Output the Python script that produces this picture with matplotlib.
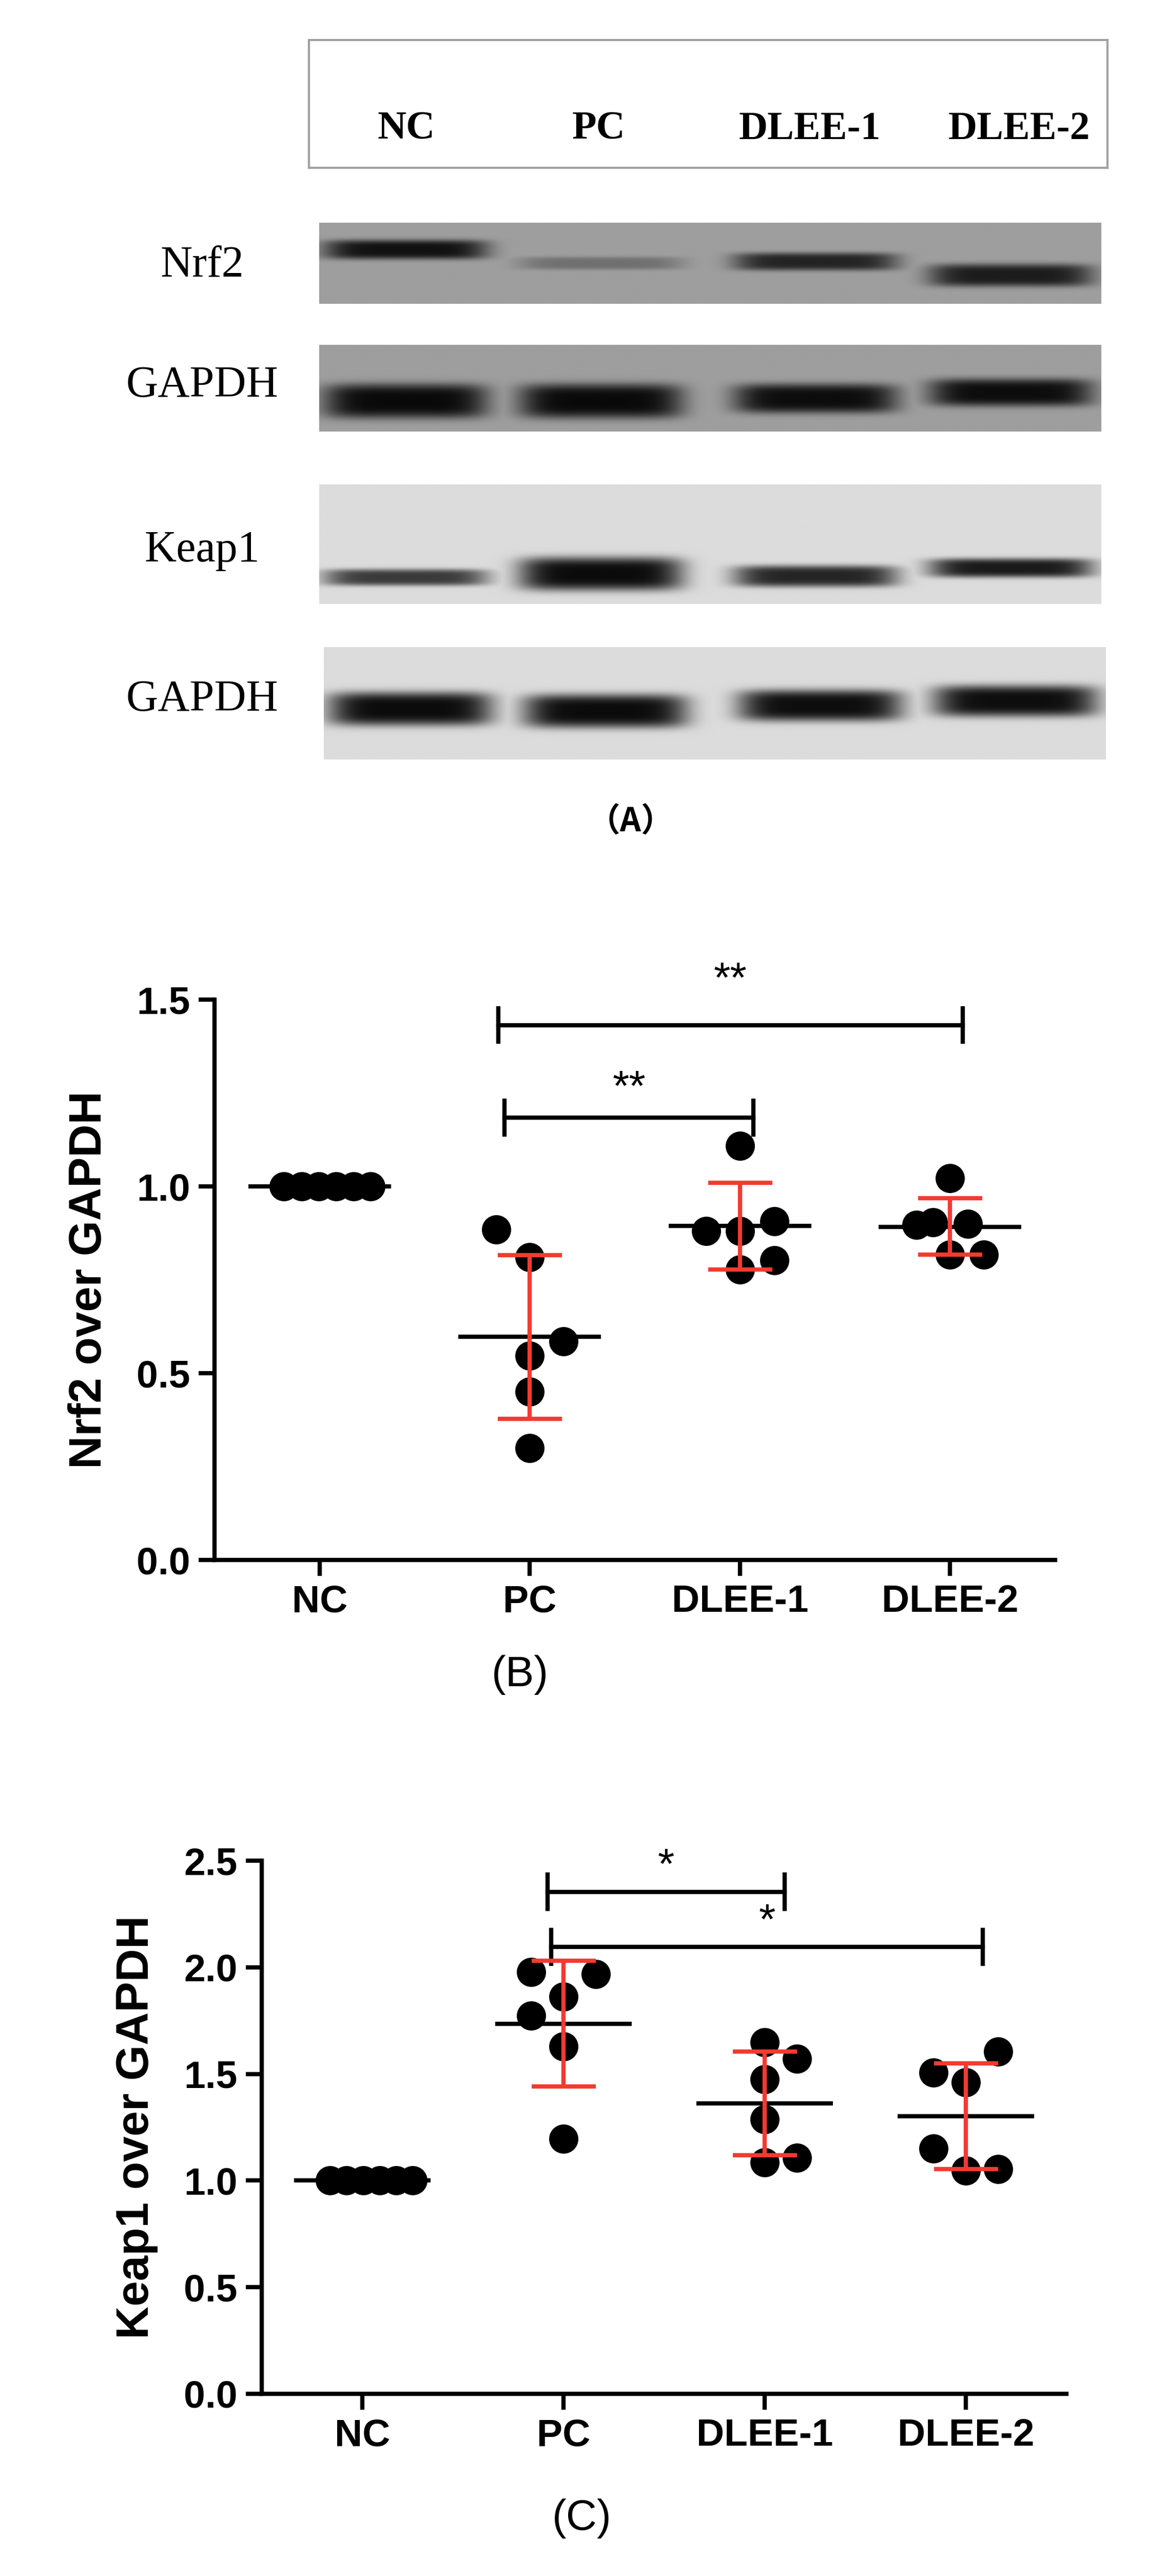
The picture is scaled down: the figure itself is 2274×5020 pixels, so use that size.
import numpy as np
import matplotlib
matplotlib.use("Agg")
import matplotlib.pyplot as plt

# ---------------- data ----------------
groups = ["NC", "PC", "DLEE-1", "DLEE-2"]

nrf2_nc = [1.0, 1.0, 1.0, 1.0, 1.0, 1.0]
nrf2_pc = [0.885, 0.81, 0.585, 0.547, 0.45, 0.30]
nrf2_d1 = [1.109, 0.88, 0.88, 0.907, 0.802, 0.777]
nrf2_d2 = [1.022, 0.897, 0.904, 0.90, 0.817, 0.817]
nrf2_mean = [1.0, 0.597, 0.894, 0.892]
nrf2_lo = [1.0, 0.378, 0.777, 0.817]
nrf2_hi = [1.0, 0.816, 1.009, 0.968]

keap_nc = [1.0, 1.0, 1.0, 1.0, 1.0, 1.0]
keap_pc = [1.979, 1.969, 1.863, 1.773, 1.628, 1.196]
keap_d1 = [1.649, 1.571, 1.475, 1.287, 1.085, 1.106]
keap_d2 = [1.605, 1.506, 1.46, 1.15, 1.047, 1.054]
keap_mean = [1.0, 1.736, 1.362, 1.302]
keap_lo = [1.0, 1.442, 1.119, 1.054]
keap_hi = [1.0, 2.031, 1.605, 1.550]

# blot band intensities (0..1) per lane
blot_rows = ["Nrf2", "GAPDH", "Keap1", "GAPDH"]
band_strength = [[0.92, 0.30, 0.80, 0.85],
                 [0.97, 0.97, 0.95, 0.95],
                 [0.75, 0.97, 0.85, 0.90],
                 [0.97, 0.97, 0.96, 0.96]]
band_ypos = [[0.33, 0.50, 0.48, 0.65],
             [0.65, 0.65, 0.62, 0.55],
             [0.78, 0.75, 0.77, 0.70],
             [0.55, 0.57, 0.52, 0.48]]
band_thick = [[0.12, 0.08, 0.11, 0.14],
              [0.20, 0.20, 0.17, 0.16],
              [0.07, 0.14, 0.09, 0.08],
              [0.15, 0.15, 0.14, 0.14]]
band_bg = [0.62, 0.62, 0.86, 0.86]

# ---------------- figure ----------------
W, H = 2274, 5020
fig = plt.figure(figsize=(W / 100, H / 100), dpi=100)
fig.patch.set_facecolor("white")

def fx(px):
    return px / W

def fy(py):
    return 1 - py / H

SERIF = ["Liberation Serif", "DejaVu Serif"]
SANS = ["Liberation Sans", "DejaVu Sans"]

# header box with lane labels
hb = fig.add_axes([fx(602), fy(327), fx(2158 - 602), (327 - 78) / H])
hb.set_xlim(0, 1); hb.set_ylim(0, 1)
hb.set_xticks([]); hb.set_yticks([])
for s in hb.spines.values():
    s.set_color("#a0a0a0"); s.set_linewidth(3)
lane_px = [792, 1166, 1578, 1986]
for name, xp in zip(groups, lane_px):
    hb.text((xp - 602) / (2158 - 602), 0.30, name, ha="center", va="center",
            family=SERIF, fontweight="bold", fontsize=56)

# blots
blot_boxes = [(622, 2146, 434, 592), (622, 2146, 672, 841),
              (622, 2146, 944, 1177), (631, 2155, 1261, 1480)]
label_y = [518, 752, 1073, 1364]
lane_frac = [0.11, 0.36, 0.635, 0.885]
for r in range(4):
    x0, x1, y0, y1 = blot_boxes[r]
    ax = fig.add_axes([fx(x0), fy(y1), (x1 - x0) / W, (y1 - y0) / H])
    nx, ny = 600, 120
    xs = np.linspace(0, 1, nx)[None, :]
    ys = np.linspace(0, 1, ny)[:, None]
    dark = np.zeros((ny, nx))
    for l in range(4):
        gx = np.exp(-((xs - lane_frac[l]) / 0.105) ** 6)
        gy = np.exp(-((ys - band_ypos[r][l]) / band_thick[r][l]) ** 4)
        dark = np.maximum(dark, band_strength[r][l] * gx * gy)
    img = band_bg[r] * (1 - dark) + 0.02 * dark
    ax.imshow(img, cmap="gray", vmin=0, vmax=1, aspect="auto",
              extent=(0, 1, 1, 0), interpolation="bilinear")
    ax.set_axis_off()
    fig.text(fx(394), fy(label_y[r]), blot_rows[r], ha="center", va="center",
             family=SERIF, fontsize=62)

fig.text(fx(1229), fy(1602), "（A）", ha="center", va="center",
         family=["Noto Sans CJK SC", "DejaVu Sans"], fontweight="bold", fontsize=46)

RED = "#f23b30"

def scatter_panel(rect, series, offsets, mean, lo, hi, ylim, yticks, ylabel,
                  brackets, tag, tag_xy):
    ax = fig.add_axes(rect)
    xs_pos = np.arange(len(groups))
    for i, vals in enumerate(series):
        ax.plot(xs_pos[i] + np.array(offsets[i]), vals, "o", color="black",
                markersize=40, zorder=3, clip_on=False)
    for i in range(len(groups)):
        ax.plot([i - 0.34, i + 0.34], [mean[i], mean[i]], color="black",
                lw=6, zorder=4, solid_capstyle="butt")
        if i > 0:
            ax.errorbar(i, mean[i], yerr=[[mean[i] - lo[i]], [hi[i] - mean[i]]],
                        fmt="none", ecolor=RED, elinewidth=6, capsize=45,
                        capthick=6, zorder=5)
    for (xa, xb, yb, dy, star, sy) in brackets:
        ax.plot([xa, xb], [yb, yb], color="black", lw=6, clip_on=False)
        for xx in (xa, xb):
            ax.plot([xx, xx], [yb - dy, yb + dy], color="black", lw=6, clip_on=False)
        ax.text((xa + xb) / 2, sy, star, ha="center", va="center",
                fontsize=60, family=SANS, clip_on=False)
    ax.set_xlim(-0.5, 3.5)
    ax.set_ylim(*ylim)
    ax.set_yticks(yticks)
    ax.set_yticklabels([f"{t:.1f}" for t in yticks])
    ax.set_xticks(xs_pos)
    ax.set_xticklabels(groups)
    for s in ("top", "right"):
        ax.spines[s].set_visible(False)
    for s in ("left", "bottom"):
        ax.spines[s].set_linewidth(6)
    ax.tick_params(width=6, length=22, labelsize=54, pad=12)
    for lab in ax.get_xticklabels() + ax.get_yticklabels():
        lab.set_fontweight("bold"); lab.set_family(SANS)
    ax.set_ylabel(ylabel, fontsize=64, fontweight="bold", family=SANS, labelpad=36)
    fig.text(tag_xy[0], tag_xy[1], tag, ha="center", va="center",
             fontsize=60, family=SANS)
    return ax

nrf2_off = [[-0.17, -0.086, -0.004, 0.079, 0.161, 0.243],
            [-0.16, 0.0, 0.16, 0.0, 0.0, 0.0],
            [0.0, -0.16, 0.0, 0.165, 0.165, 0.0],
            [0.0, -0.16, -0.08, 0.085, 0.0, 0.16]]
axB = scatter_panel([fx(418), fy(3040), (2056 - 418) / W, (3040 - 1948) / H],
                    [nrf2_nc, nrf2_pc, nrf2_d1, nrf2_d2], nrf2_off,
                    nrf2_mean, nrf2_lo, nrf2_hi, (0, 1.5), [0.0, 0.5, 1.0, 1.5],
                    "Nrf2 over GAPDH",
                    [(0.85, 3.06, 1.432, 0.045, "**", 1.55),
                     (0.88, 2.065, 1.184, 0.045, "**", 1.26)],
                    "(B)", (fx(1013), fy(3264)))

keap_off = [[-0.16, -0.078, 0.004, 0.086, 0.168, 0.25],
            [-0.16, 0.16, 0.0, -0.16, 0.0, 0.0],
            [0.0, 0.16, 0.0, 0.0, 0.0, 0.16],
            [0.16, -0.16, 0.0, -0.16, 0.0, 0.16]]
axC = scatter_panel([fx(510), fy(4665), (2078 - 510) / W, (4665 - 3626) / H],
                    [keap_nc, keap_pc, keap_d1, keap_d2], keap_off,
                    keap_mean, keap_lo, keap_hi, (0, 2.5), [0.0, 0.5, 1.0, 1.5, 2.0, 2.5],
                    "Keap1 over GAPDH",
                    [(0.92, 2.10, 2.354, 0.08, "*", 2.47),
                     (0.94, 3.085, 2.096, 0.08, "*", 2.21)],
                    "(C)", (fx(1134), fy(4908)))

fig.savefig("out.png", dpi=100, facecolor="white")
